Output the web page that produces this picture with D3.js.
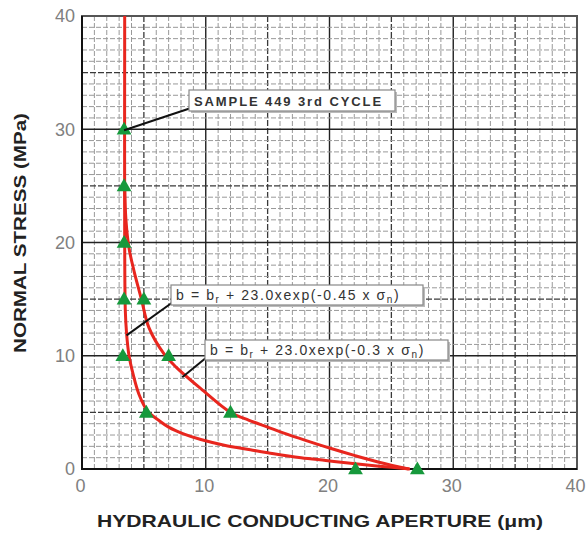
<!DOCTYPE html>
<html>
<head>
<meta charset="utf-8">
<script src="https://cdn.jsdelivr.net/npm/d3@7"></script>
<style>
  body { margin: 0; background: #fff; }
  .tick text { font-family: "Liberation Sans", Arial, sans-serif; }
</style>
</head>
<body>
<div class="chart"></div>
<script>
// Stress vs aperture chart
var svgWidth = 588;
var svgHeight = 533;
var margin = { top: 16, right: 11, bottom: 64, left: 82 };
var width = svgWidth - margin.left - margin.right;
var height = svgHeight - margin.top - margin.bottom;

// data: [aperture (um), stress (MPa)]
var measured = [
  [3.4, 30], [3.4, 25], [3.4, 20], [3.4, 15], [3.3, 10],
  [5.0, 15], [7.0, 10], [5.2, 5], [12.0, 5], [22.1, 0], [27.1, 0]
];
// fit with exp(-0.45 x sn)
var fitFast = [
  [3.45, 40], [3.45, 20], [3.5, 14], [3.6, 12], [3.8, 10], [4.1, 8.5],
  [4.6, 6.6], [5.3, 5.1], [6.2, 4.3], [7.0, 3.7], [8.2, 3.1], [9.6, 2.6],
  [11.5, 2.1], [13.6, 1.7], [15.5, 1.35], [17.7, 1.0], [19.7, 0.75],
  [21.7, 0.5], [24.0, 0.25], [26.5, 0]
];
// fit with exp(-0.3 x sn)
var fitSlow = [
  [3.45, 25], [3.55, 22], [3.8, 19.5], [4.2, 17.5], [4.8, 15], [5.4, 12.5],
  [6.6, 10.2], [7.6, 9], [9.6, 7.1], [12.0, 5.0], [13.5, 4.3], [15.0, 3.7],
  [16.5, 3.1], [18.0, 2.55], [20.0, 1.85], [22.0, 1.2], [24.0, 0.6], [26.4, 0]
];
var xTicks = [0, 10, 20, 30, 40];
var yTicks = [0, 10, 20, 30, 40];

var svg = d3.select(".chart")
  .append("svg")
  .attr("width", svgWidth)
  .attr("height", svgHeight);

var chart = svg.append("g")
  .attr("transform", "translate(" + margin.left + "," + margin.top + ")");

var xScale = d3.scaleLinear().domain([0, 40]).range([0, width]);
var yScale = d3.scaleLinear().domain([0, 40]).range([height, 0]);

// graph paper grid
var minor = d3.range(1, 40);
var grid = chart.append("g");
grid.selectAll(".vx")
  .data(minor)
  .enter().append("line")
  .attr("x1", d => xScale(d)).attr("x2", d => xScale(d))
  .attr("y1", 0).attr("y2", height)
  .attr("stroke", d => d % 10 == 0 ? "#222" : d % 5 == 0 ? "#3a3a3a" : "#999")
  .attr("stroke-width", d => d % 10 == 0 ? 1.4 : d % 5 == 0 ? 1.3 : 1)
  .attr("stroke-dasharray", d => d % 10 == 0 ? null : d % 5 == 0 ? "6,2" : "5,2");
grid.selectAll(".hy")
  .data(minor)
  .enter().append("line")
  .attr("y1", d => yScale(d)).attr("y2", d => yScale(d))
  .attr("x1", 0).attr("x2", width)
  .attr("stroke", d => d % 10 == 0 ? "#222" : d % 5 == 0 ? "#3a3a3a" : "#999")
  .attr("stroke-width", d => d % 10 == 0 ? 1.4 : d % 5 == 0 ? 1.3 : 1)
  .attr("stroke-dasharray", d => d % 10 == 0 ? null : d % 5 == 0 ? "6,2" : "5,2");

// frame
chart.append("rect")
  .attr("width", width).attr("height", height)
  .attr("fill", "none")
  .attr("stroke", "#555")
  .attr("stroke-width", 2);
chart.append("path")
  .attr("d", "M0,0V" + height + "H" + width)
  .attr("fill", "none").attr("stroke", "#111").attr("stroke-width", 2);

// axes (labels only)
var bottomAxis = d3.axisBottom(xScale).tickValues(xTicks).tickSize(0).tickPadding(10);
var leftAxis = d3.axisLeft(yScale).tickValues(yTicks).tickSize(0).tickPadding(7);
var gx = chart.append("g").attr("transform", "translate(-2," + height + ")").call(bottomAxis);
var gy = chart.append("g").call(leftAxis);
[gx, gy].forEach(function(g) {
  g.select(".domain").remove();
  g.selectAll("text").attr("font-size", "18px").attr("fill", "#808080");
});

// fitted curves
var line = d3.line()
  .x(d => xScale(d[0]))
  .y(d => yScale(d[1]))
  .curve(d3.curveCatmullRom.alpha(0.5));
[fitFast, fitSlow].forEach(function(c) {
  chart.append("path")
    .datum(c)
    .attr("d", line)
    .attr("fill", "none")
    .attr("stroke", "#e8261e")
    .attr("stroke-width", 3);
});

// measured points
chart.selectAll(".pt")
  .data(measured)
  .enter().append("path")
  .attr("d", d3.symbol().type(d3.symbolTriangle).size(95))
  .attr("transform", d => "translate(" + xScale(d[0]) + "," + (yScale(d[1]) + 1) + ")")
  .attr("fill", "#16993c");

// annotations
function callout(x, y, w, h, px, py, build) {
  chart.append("line")
    .attr("x1", x + 2).attr("y1", y + h - 3)
    .attr("x2", px).attr("y2", py)
    .attr("stroke", "#111").attr("stroke-width", 2);
  chart.append("rect")
    .attr("x", x + 2).attr("y", y + 2).attr("width", w).attr("height", h)
    .attr("fill", "#bbb");
  chart.append("rect")
    .attr("x", x).attr("y", y).attr("width", w).attr("height", h)
    .attr("fill", "#fff").attr("stroke", "#888").attr("stroke-width", 1.2);
  var t = chart.append("text")
    .attr("x", x + 5).attr("y", y + h / 2 + 5)
    .attr("font-family", "Liberation Sans, Arial, sans-serif")
    .attr("fill", "#333");
  build(t);
}
var ox = -margin.left, oy = -margin.top;
callout(189 + ox, 90 + oy, 206, 21, xScale(3.4), yScale(30) + 1, function(t) {
  t.attr("font-size", "13px").attr("font-weight", "bold").attr("letter-spacing", "1.9px")
    .text("SAMPLE 449 3rd CYCLE");
});
function formula(k) {
  return function(t) {
    t.attr("font-size", "14px").attr("letter-spacing", "1.6px");
    t.append("tspan").text("b = b");
    t.append("tspan").attr("font-size", "10px").attr("dy", 3).text("r");
    t.append("tspan").attr("dy", -3).text(" + 23.0xexp(-" + k + " x \u03c3");
    t.append("tspan").attr("font-size", "10px").attr("dy", 3).text("n");
    t.append("tspan").attr("dy", -3).text(")");
  };
}
callout(171 + ox, 285 + oy, 252, 20, xScale(3.6), yScale(11.8), formula("0.45"));
callout(205 + ox, 340 + oy, 243, 20, xScale(8.1), yScale(8.1), formula("0.3"));

// axis titles
chart.append("text")
  .attr("transform", "rotate(-90)")
  .attr("x", -(233 - margin.top))
  .attr("y", 26 - margin.left)
  .attr("text-anchor", "middle")
  .attr("font-family", "Liberation Sans, Arial, sans-serif")
  .attr("font-size", "17px").attr("font-weight", "bold")
  .attr("textLength", 240).attr("lengthAdjust", "spacingAndGlyphs")
  .attr("fill", "#222")
  .text("NORMAL STRESS (MPa)");
chart.append("text")
  .attr("x", 320 - margin.left)
  .attr("y", 527 - margin.top)
  .attr("text-anchor", "middle")
  .attr("font-family", "Liberation Sans, Arial, sans-serif")
  .attr("font-size", "17px").attr("font-weight", "bold")
  .attr("textLength", 446).attr("lengthAdjust", "spacingAndGlyphs")
  .attr("fill", "#222")
  .text("HYDRAULIC CONDUCTING APERTURE (\u03bcm)");
</script>
</body>
</html>
